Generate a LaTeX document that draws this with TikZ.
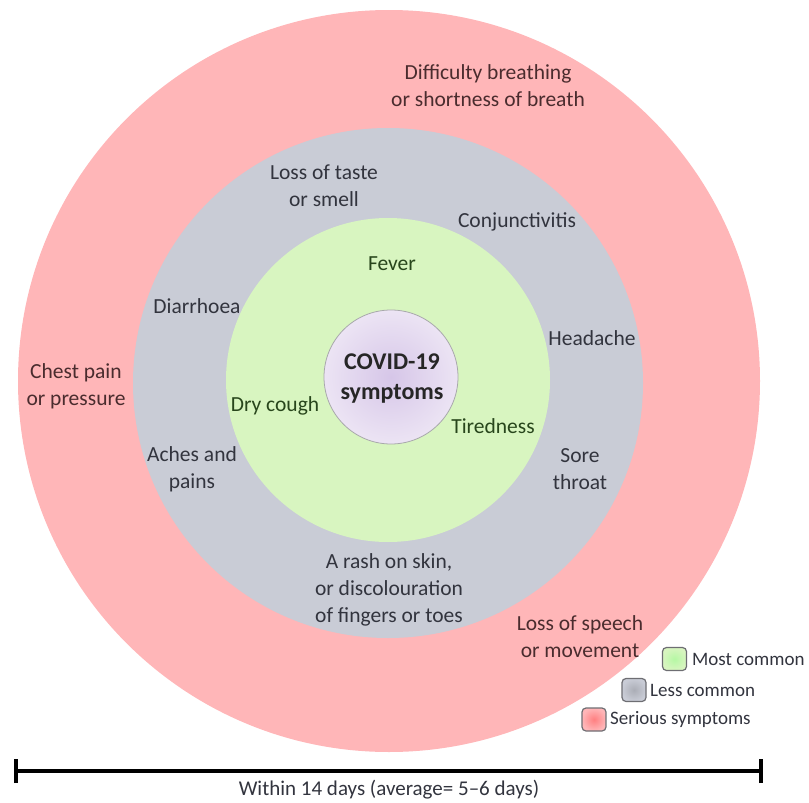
\documentclass[tikz,border=0pt]{standalone}
\usepackage{fontspec}
\setmainfont{Carlito}
\usetikzlibrary{shadings}
\definecolor{ringred}{RGB}{255,182,184}
\definecolor{ringgray}{RGB}{201,204,214}
\definecolor{ringgreen}{RGB}{216,245,192}
\definecolor{corein}{RGB}{214,198,232}
\definecolor{coreout}{RGB}{236,228,244}
\definecolor{txtred}{RGB}{74,44,46}
\definecolor{txtgray}{RGB}{50,52,62}
\definecolor{txtgreen}{RGB}{40,70,28}
\definecolor{legedge}{RGB}{110,110,115}
\tikzset{
  lbl/.style={align=center, inner sep=0pt, font=\fontsize{21.5}{27}\selectfont},
  redlbl/.style={lbl, text=txtred},
  graylbl/.style={lbl, text=txtgray},
  greenlbl/.style={lbl, text=txtgreen},
  legbox/.style={draw=legedge, line width=1.2pt, rounded corners=4pt, minimum width=24pt, minimum height=23pt, inner sep=0pt},
  legtxt/.style={anchor=west, inner sep=0pt, text=txtgray, font=\fontsize{19}{22}\selectfont},
}
\begin{document}
\begin{tikzpicture}[x=1pt,y=-1pt]
\useasboundingbox (0,0) rectangle (809,803);
% rings
\fill[ringred] (389,381) circle[radius=371];
\fill[ringgray] (388,383) circle[radius=255];
\fill[ringgreen] (388,380) circle[radius=162];
\shade[inner color=corein, outer color=coreout, draw=legedge!60, line width=0.8pt] (391,377) circle[radius=67];
% labels
\node[lbl, font=\fontsize{24}{30}\selectfont\bfseries, text=black!85] (core) at (392,379) {COVID-19\\symptoms};
\node[redlbl] (dyspnea) at (488,86) {Difficulty breathing\\or shortness of breath};
\node[redlbl] (chest) at (76,386) {Chest pain\\or pressure};
\node[redlbl] (speech) at (580,637) {Loss of speech\\or movement};
\node[graylbl] (taste) at (324,186) {Loss of taste\\or smell};
\node[graylbl] (conj) at (517,222) {Conjunctivitis};
\node[graylbl] (diarr) at (197,306) {Diarrhoea};
\node[graylbl] (head) at (592,338) {Headache};
\node[graylbl] (aches) at (192,469) {Aches and\\pains};
\node[graylbl] (sore) at (580,469) {Sore\\throat};
\node[graylbl] (rash) at (389,590) {A rash on skin,\\or discolouration\\of fingers or toes};
\node[greenlbl] (fever) at (392,264) {Fever};
\node[greenlbl] (cough) at (275,406) {Dry cough};
\node[greenlbl] (tired) at (493,426) {Tiredness};
% legend
\node[legbox, inner color=ringgreen!80!green!90!white, outer color=ringgreen, shading=radial] (lgreen) at (674.5,659) {};
\node[legtxt] (tgreen) at (692,659) {Most common};
\node[legbox, inner color=ringgray!85!black, outer color=ringgray, shading=radial] (lgray) at (634,690) {};
\node[legtxt] (tgray) at (650,690) {Less common};
\node[legbox, inner color=ringred!70!red, outer color=ringred, shading=radial] (lred) at (594,719.5) {};
\node[legtxt] (tred) at (610,719.5) {Serious symptoms};
% time bar
\coordinate (bl) at (16,771);
\coordinate (br) at (761,771);
\draw[line width=3.5pt] (bl) -- (br);
\draw[line width=3.5pt] ([yshift=-12pt]bl) -- ([yshift=12pt]bl);
\draw[line width=3.5pt] ([yshift=-12pt]br) -- ([yshift=12pt]br);
\node[lbl, text=txtgray, font=\fontsize{21}{25}\selectfont] (period) at (389,790) {Within 14 days (average= 5–6 days)};
\end{tikzpicture}
\end{document}
